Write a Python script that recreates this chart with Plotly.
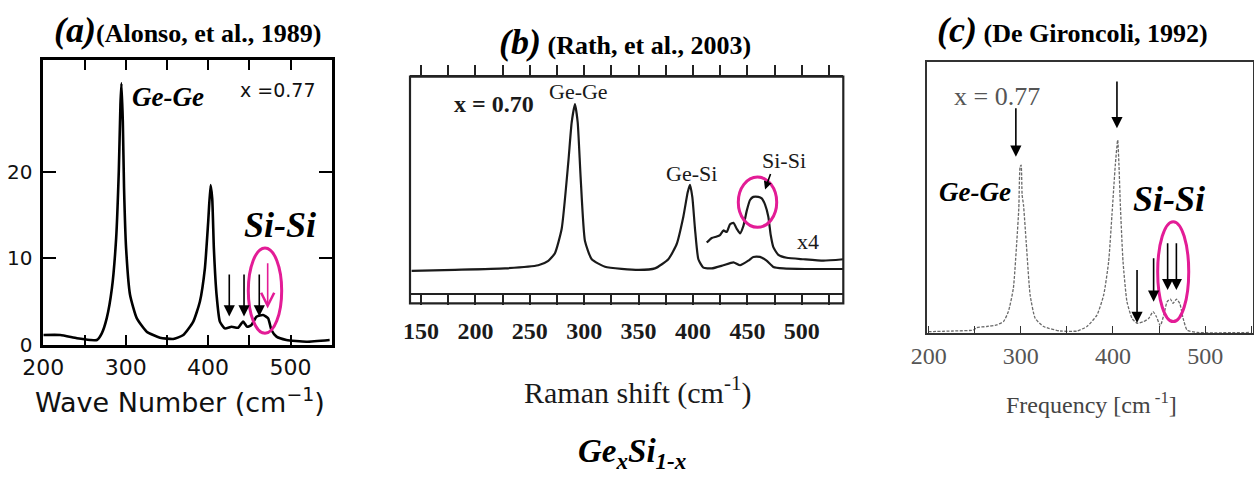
import plotly.graph_objects as go

W, H = 1254, 477

# ---------------- data ----------------
# (a) Alonso et al., 1989, x = 0.77
a_wavenumber = [200, 220.6, 240.8, 256.9, 265, 271, 277, 283.2, 288.4, 291.6, 293.6, 294.8,
                296.5, 298, 300.5, 305.3, 313.4, 325.5, 341.6, 357.7, 369.9, 382, 390, 396.1,
                400.1, 403, 405, 407, 410.3, 414.3, 420.3, 428.4, 436.5, 442.5, 447.4, 452.6,
                458.7, 466.7, 472.8, 476.9, 483, 495, 519.2, 547.5]
a_intensity = [1.15, 1.15, 0.77, 0.58, 0.58, 1.35, 3.1, 6.5, 12.3, 20, 27.7, 30.2,
               25.8, 18.1, 11.15, 5.77, 3.1, 1.53, 0.85, 0.69, 1.15, 2.7, 5.0, 8.85,
               14.2, 18.45, 16.9, 11.15, 5.77, 2.7, 1.92, 2.1, 2.0, 2.7, 2.1, 2.3,
               3.27, 3.46, 3.08, 1.73, 0.96, 0.58, 0.38, 0.58]
a_xticks = [200, 300, 400, 500]
a_yticks = [0, 10, 20]
a_arrow_pos = [425.7, 443.6, 462.1]

# (b) Rath et al., 2003, x = 0.70
b_shift = [141.4, 181.2, 227.2, 257.8, 267, 273.1, 279.3, 285.4, 288.5, 291.5, 294, 296.7,
           300.7, 306.9, 319.1, 349.7, 365, 377.3, 385, 391.1, 395.1, 397.2, 399.4, 401.8,
           404.9, 409.5, 417.2, 427.9, 437.1, 443.2, 450.8, 455.4, 461.5, 467.6, 473.8,
           483, 503, 538]
b_intensity = [6.1, 6.6, 7.3, 8.8, 10.9, 14.6, 26.3, 58.4, 77.4, 86.1, 77.4, 51.1,
               20.4, 11.7, 8.1, 6.6, 7.3, 11.7, 19.0, 32.1, 43.8, 47.4, 41.4, 26.3,
               11.7, 7.7, 7.3, 8.8, 10.2, 8.8, 11.0, 12.8, 12.8, 11.0, 8.0,
               7.3, 7.0, 7.0]
b_x4_shift = [412.6, 417.2, 421.8, 424.8, 427.9, 431, 434, 437.1, 440.2, 443.2, 446.3, 449.4,
              452.4, 455.4, 460, 463.1, 466.2, 469.2, 471.4, 473.8, 478.4, 486.1, 501.4,
              519.8, 538]
b_x4_intensity = [19.7, 21.9, 22.6, 23.3, 25.5, 24.8, 28.5, 29.2, 26.3, 24.1, 27.7, 35.0,
                  40.1, 41.6, 41.6, 40.9, 37.9, 32.1, 23.3, 17.5, 13.8, 12.4, 11.7,
                  11.0, 11.7]
b_xticks = [150, 200, 250, 300, 350, 400, 450, 500]

# (c) De Gironcoli, 1992, x = 0.77
c_freq = [199.6, 226.7, 248.5, 252.1, 263, 273.8, 281.1, 286.5, 291.9, 295.6, 297.8, 299.2,
          300.3, 301.4, 302.9, 305.8, 310.1, 315.6, 324.6, 342.8, 360.9, 371.7, 382.6,
          389.9, 395.3, 398.9, 402.5, 405.1, 406.5, 408, 410.9, 415.2, 420.7, 426.1,
          433.3, 438.8, 443.5, 447.1, 451.4, 455.1, 458.7, 462.3, 465.2, 468.9, 472.5,
          476.1, 480.4, 491.3, 549.3]
c_intensity = [0.6, 0.85, 1.2, 2.1, 2.5, 3.1, 4.3, 8.0, 16.6, 33.7, 46.0, 61.3,
               61.9, 50.9, 47.2, 33.7, 14.1, 5.5, 2.5, 0.85, 0.85, 2.5, 6.7,
               14.1, 26.4, 43.6, 61.9, 71.2, 61.9, 47.2, 26.4, 11.6, 5.5, 3.7,
               4.3, 5.5, 8.0, 6.1, 2.8, 6.7, 11.6, 12.6, 11.0, 12.6, 11.0,
               5.5, 1.2, 0.3, 0.3]
c_xticks = [200, 300, 400, 500]

# ---------------- styling ----------------
MAG = '#e31c96'
SERIF = 'Liberation Serif'
SANS = 'DejaVu Sans'


def dom_x(l, r):
    return [l / W, r / W]


def dom_y(bottom, top):
    return [1 - bottom / H, 1 - top / H]


fig = go.Figure()
fig.add_trace(go.Scatter(x=a_wavenumber, y=a_intensity, xaxis='x', yaxis='y', mode='lines',
                         line=dict(color='black', width=2.6, shape='spline', smoothing=0.5),
                         hoverinfo='skip'))
fig.add_trace(go.Scatter(x=b_shift, y=b_intensity, xaxis='x2', yaxis='y2', mode='lines',
                         line=dict(color='#1a1a1a', width=2.2, shape='spline', smoothing=0.5),
                         hoverinfo='skip'))
fig.add_trace(go.Scatter(x=b_x4_shift, y=b_x4_intensity, xaxis='x2', yaxis='y2', mode='lines',
                         line=dict(color='#1a1a1a', width=2.2, shape='spline', smoothing=0.5),
                         hoverinfo='skip'))
fig.add_trace(go.Scatter(x=c_freq, y=c_intensity, xaxis='x3', yaxis='y3', mode='lines',
                         line=dict(color='#6a6a6a', width=1.3, dash='3px,1.5px',
                                   shape='spline', smoothing=0.5),
                         hoverinfo='skip'))

fig.update_layout(
    width=W, height=H, margin=dict(l=0, r=0, t=0, b=0, autoexpand=False),
    paper_bgcolor='white', plot_bgcolor='white', showlegend=False,
    xaxis=dict(domain=dom_x(43.3, 331.7), anchor='y', range=[200, 550], automargin=False,
               tickmode='array', tickvals=a_xticks, ticks='inside', ticklen=10, tickwidth=2,
               tickcolor='black', showline=True, linecolor='black', linewidth=2.5,
               mirror='ticks', showgrid=False, zeroline=False,
               tickfont=dict(family=SANS, size=22, color='#111'), ticklabelstandoff=1,
               minor=dict(tickmode='linear', tick0=200, dtick=50, ticks='inside', ticklen=10,
                          tickwidth=2, tickcolor='black', showgrid=False)),
    yaxis=dict(domain=dom_y(345, 60), anchor='x', range=[0, 32.9], automargin=False,
               tickmode='array', tickvals=a_yticks, ticks='inside', ticklen=13, tickwidth=2,
               tickcolor='black', showline=True, linecolor='black', linewidth=2.5,
               mirror='ticks', showgrid=False, zeroline=False,
               tickfont=dict(family=SANS, size=20, color='#111'), ticklabelstandoff=4),
    xaxis2=dict(domain=dom_x(410, 843.3), anchor='y2', range=[139.9, 538.1], automargin=False,
                tickmode='array', tickvals=b_xticks, ticks='outside', ticklen=10, tickwidth=1.6,
                tickcolor='#222', showline=True, linecolor='#222', linewidth=2,
                mirror='ticks', showgrid=False, zeroline=False,
                tickfont=dict(family=SERIF, size=24, color='#1a1a1a', weight='bold'),
                ticklabelstandoff=5,
                minor=dict(tickmode='linear', tick0=150, dtick=25, ticks='outside', ticklen=10,
                           tickwidth=1.6, tickcolor='#222', showgrid=False)),
    yaxis2=dict(domain=dom_y(293, 76.7), anchor='x2', range=[-4.5, 99.25], automargin=False,
                showticklabels=False, ticks='', showline=False, showgrid=False, zeroline=False),
    xaxis3=dict(domain=dom_x(927.3, 1252.5), anchor='y3', range=[198.5, 551.4], automargin=False,
                tickmode='array', tickvals=c_xticks, ticks='inside', ticklen=8, tickwidth=1.3,
                tickcolor='#333', showline=True, linecolor='#333', linewidth=1.6,
                mirror=True, showgrid=False, zeroline=False,
                tickfont=dict(family=SERIF, size=24, color='#555'), ticklabelstandoff=0,
                minor=dict(tickmode='linear', tick0=200, dtick=50, ticks='inside', ticklen=8,
                           tickwidth=1.3, tickcolor='#333', showgrid=False)),
    yaxis3=dict(domain=dom_y(333.3, 61.7), anchor='x3', range=[0, 100], automargin=False,
                showticklabels=False, ticks='', showline=True, linecolor='#333', linewidth=1.6,
                mirror=True, showgrid=False, zeroline=False),
)

shapes = []
# frame around panel (b), extending below the tick band
shapes.append(dict(type='rect', xref='paper', yref='paper',
                   x0=410 / W, x1=843.3 / W, y0=1 - 303.3 / H, y1=1 - 76.7 / H,
                   line=dict(color='#222', width=2.2)))
# magenta ellipses
shapes.append(dict(type='circle', xref='x', yref='y', x0=448.8, x1=489.3, y0=1.35, y1=11.2,
                   line=dict(color=MAG, width=3)))
shapes.append(dict(type='circle', xref='x2', yref='y2', x0=441.6, x1=476.9, y0=27.0, y1=51.1,
                   line=dict(color=MAG, width=3)))
shapes.append(dict(type='circle', xref='x3', yref='y3', x0=448.5, x1=482.2, y0=4.3, y1=41.1,
                   line=dict(color=MAG, width=3)))
fig.update_layout(shapes=shapes)

ann = []


def text(x, y, s, xref, yref, size, family=SERIF, color='black', xanchor='center'):
    ann.append(dict(x=x, y=y, xref=xref, yref=yref, text=s, showarrow=False,
                    xanchor=xanchor, yanchor='middle',
                    font=dict(family=family, size=size, color=color)))


def arrow(x, y_tail, y_tip, xref, yref, color='black', head=2, size=1.3, width=1.6, x_tail=None):
    ann.append(dict(x=x, y=y_tip, ax=x if x_tail is None else x_tail, ay=y_tail,
                    xref=xref, yref=yref, axref=xref, ayref=yref, text='',
                    showarrow=True, arrowhead=head, arrowsize=size, arrowwidth=width,
                    arrowcolor=color, standoff=0, startstandoff=0))


# titles
text(52 / W, 1 - 30 / H,
     '<b><i><span style="font-size:36px">(a)</span></i>(Alonso, et al., 1989)</b>',
     'paper', 'paper', 26, xanchor='left')
text(497 / W, 1 - 42 / H,
     '<b><i><span style="font-size:36px">(b)</span></i> (Rath, et al., 2003)</b>',
     'paper', 'paper', 26, xanchor='left')
text(935 / W, 1 - 30 / H,
     '<b><i><span style="font-size:36px">(c)</span></i> (De Gironcoli, 1992)</b>',
     'paper', 'paper', 26, xanchor='left')

# axis titles and caption
text(180 / W, 1 - 400 / H, 'Wave Number (cm<sup>−1</sup>)', 'paper', 'paper', 27, family=SANS,
     color='#111')
text(637 / W, 1 - 390 / H, 'Raman shift (cm<sup>-1</sup>)', 'paper', 'paper', 30,
     color='#1a1a1a')
text(1091 / W, 1 - 403 / H, 'Frequency [cm<sup> -1</sup>]', 'paper', 'paper', 24, color='#444')
text(632 / W, 1 - 453 / H, '<b><i>Ge<sub>x</sub>Si<sub>1-x</sub></i></b>', 'paper', 'paper', 33)

# panel (a) labels
text(351.3, 28.6, '<b><i>Ge-Ge</i></b>', 'x', 'y', 27)
text(484.8, 29.4, 'x =0.77', 'x', 'y', 19, family=SANS, color='#111')
text(487.3, 13.9, '<b><i>Si-Si</i></b>', 'x', 'y', 36)
for xa in a_arrow_pos:
    arrow(xa, 8.3, 3.3, 'x', 'y', head=2, size=1.4, width=1.6)
arrow(472.3, 9.6, 4.2, 'x', 'y', color=MAG, head=5, size=1.6, width=1.6)

# panel (b) labels
text(217.1, 86.1, '<b>x = 0.70</b>', 'x2', 'y2', 24, color='#1a1a1a')
text(294.3, 92.3, 'Ge-Ge', 'x2', 'y2', 22, color='#1a1a1a')
text(398.2, 53.0, 'Ge-Si', 'x2', 'y2', 22, color='#1a1a1a')
text(483.6, 59.1, 'Si-Si', 'x2', 'y2', 22, color='#1a1a1a')
text(505.7, 20.1, 'x4', 'x2', 'y2', 22, color='#1a1a1a')
arrow(466.2, 53.3, 45.2, 'x2', 'y2', head=2, size=1.0, width=1.6, x_tail=471.7)

# panel (c) labels
text(273.9, 87.1, 'x = 0.77', 'x3', 'y3', 26, color='#555')
text(250.3, 52.1, '<b><i>Ge-Ge</i></b>', 'x3', 'y3', 27)
text(461.2, 49.4, '<b><i>Si-Si</i></b>', 'x3', 'y3', 36)
arrow(294.6, 83.4, 65.0, 'x3', 'y3', head=2, size=1.4, width=1.6)
arrow(404.3, 93.3, 75.5, 'x3', 'y3', head=2, size=1.4, width=1.6)
arrow(426.1, 23.9, 3.8, 'x3', 'y3', head=2, size=1.4, width=1.6)
arrow(444.1, 28.2, 11.6, 'x3', 'y3', head=2, size=1.4, width=1.6)
arrow(459.3, 33.7, 15.9, 'x3', 'y3', head=2, size=1.4, width=1.6)
arrow(468.8, 33.7, 15.9, 'x3', 'y3', head=2, size=1.4, width=1.6)

fig.update_layout(annotations=ann)
fig.write_html('out.html', config={'displayModeBar': False},
               post_script="document.body.style.margin='0';")
